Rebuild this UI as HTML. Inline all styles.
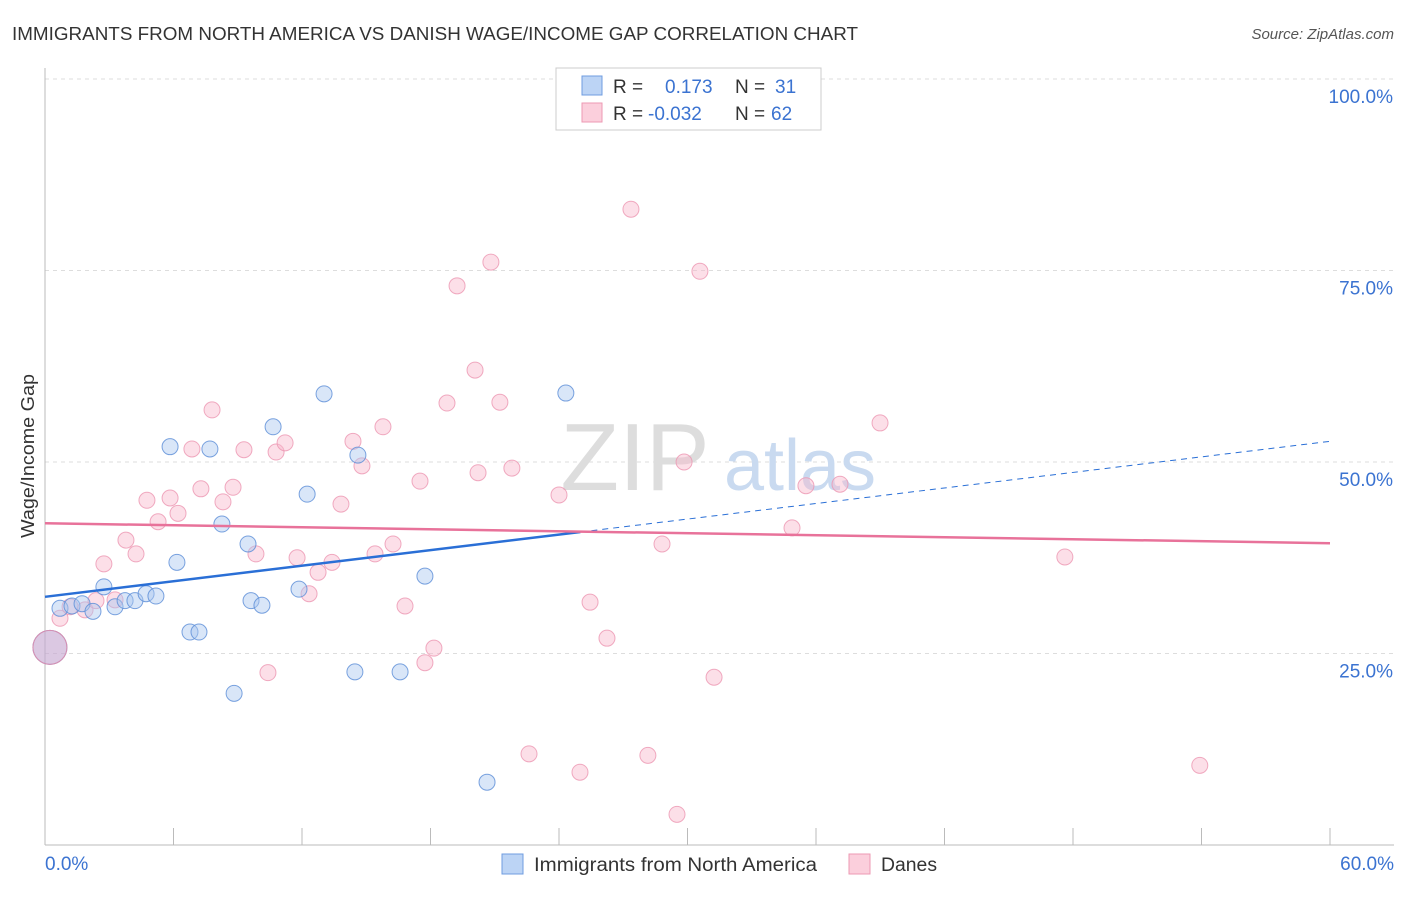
<!DOCTYPE html>
<html><head><meta charset="utf-8"><style>
body{margin:0;background:#fff;font-family:"Liberation Sans",sans-serif;}
svg text{font-family:"Liberation Sans",sans-serif;}
</style></head><body>
<svg id="chart" width="1406" height="892">
<text x="12" y="40" font-size="18" fill="#333" textLength="846" lengthAdjust="spacingAndGlyphs">IMMIGRANTS FROM NORTH AMERICA VS DANISH WAGE/INCOME GAP CORRELATION CHART</text>
<text x="1394" y="39" font-size="15" fill="#555" font-style="italic" text-anchor="end">Source: ZipAtlas.com</text>
<g id="grid"></g>
<text x="635" y="490" font-size="96" fill="#ddd" font-family="Liberation Serif" text-anchor="middle">ZIP</text>
<text x="800" y="490" font-size="72" fill="#c9daf0" text-anchor="middle">atlas</text>
<text transform="translate(34,456) rotate(-90)" font-size="18" fill="#333" text-anchor="middle" textLength="164" lengthAdjust="spacingAndGlyphs">Wage/Income Gap</text>
<g id="marks"></g>
<g>
<rect x="556" y="68" width="265" height="62" fill="#fff" stroke="#ccc"/>
<rect x="582" y="76" width="20" height="19" fill="#bcd4f5" stroke="#6f9ce0"/>
<rect x="582" y="103" width="20" height="19" fill="#fbcfdc" stroke="#ec9ab3"/>
<text x="613" y="93" font-size="19" fill="#333">R =</text><text x="665" y="93" font-size="19" fill="#3b73d1">0.173</text>
<text x="735" y="93" font-size="19" fill="#333">N =</text><text x="775" y="93" font-size="19" fill="#3b73d1">31</text>
<text x="613" y="120" font-size="19" fill="#333">R =</text><text x="648" y="120" font-size="19" fill="#3b73d1">-0.032</text>
<text x="735" y="120" font-size="19" fill="#333">N =</text><text x="771" y="120" font-size="19" fill="#3b73d1">62</text>
</g>
<g>
<rect x="502" y="854" width="21" height="20" fill="#bcd4f5" stroke="#6f9ce0"/>
<text x="534" y="871" font-size="19" fill="#333" textLength="283" lengthAdjust="spacingAndGlyphs">Immigrants from North America</text>
<rect x="849" y="854" width="21" height="20" fill="#fbcfdc" stroke="#ec9ab3"/>
<text x="881" y="871" font-size="19" fill="#333" textLength="56" lengthAdjust="spacingAndGlyphs">Danes</text>
</g>
</svg>
<script>
const xTicks=[0,6,12,18,24,30,36,42,48,54,60];
const yTicks=[25,50,75,100];
const blueX=[0.70,1.26,1.73,2.24,2.75,3.27,3.74,4.20,4.72,5.18,5.84,6.16,6.77,7.19,7.70,8.26,8.83,9.48,9.62,10.13,10.65,11.86,12.24,13.03,14.47,14.61,16.58,17.74,20.64,24.32];
const blueY=[30.9,31.2,31.5,30.5,33.7,31.1,31.9,31.9,32.8,32.5,52.0,36.9,27.8,27.8,51.7,41.9,19.8,39.3,31.9,31.3,54.6,33.4,45.8,58.9,22.6,50.9,22.6,35.1,8.2,59.0];
const pinkX=[0.70,1.17,1.87,2.38,2.75,3.27,3.78,4.25,4.76,5.28,5.84,6.21,6.86,7.28,7.80,8.31,8.78,9.29,9.85,10.41,10.79,11.21,11.77,12.33,12.75,13.40,13.82,14.38,14.80,15.41,15.78,16.25,16.81,17.51,17.74,18.16,18.77,19.24,20.08,20.22,20.82,21.24,21.80,22.60,24.00,24.98,25.45,26.24,27.36,28.15,28.81,29.51,29.84,30.58,31.24,34.88,35.53,37.12,38.99,47.62,53.92];
const pinkY=[29.6,31.1,30.7,31.9,36.7,32.0,39.8,38.0,45.0,42.2,45.3,43.3,51.7,46.5,56.8,44.8,46.7,51.6,38.0,22.5,51.3,52.5,37.5,32.8,35.6,36.9,44.5,52.7,49.5,38.0,54.6,39.3,31.2,47.5,23.8,25.7,57.7,73.0,62.0,48.6,76.1,57.8,49.2,11.9,45.7,9.5,31.7,27.0,83.0,11.7,39.3,4.0,50.0,74.9,21.9,41.4,46.9,47.1,55.1,37.6,10.4];
const bigPoint=[0.23,25.8];
const blueTrend=[32.4,52.7];
const pinkTrend=[42.0,39.4];
const blueSolidEnd=25.0;
const NS="http://www.w3.org/2000/svg";
const sx=v=>45+v/60*1285, sy=v=>845-v*7.66;
function mk(t,a,p){const e=document.createElementNS(NS,t);for(const k in a)e.setAttribute(k,a[k]);p.appendChild(e);return e;}
const grid=document.getElementById('grid'),marks=document.getElementById('marks');
yTicks.forEach(t=>{
 const l=mk('line',{x1:45,x2:1394,y1:sy(t),y2:sy(t),stroke:'#ddd','stroke-dasharray':'4,4'},grid);
 
 
 const tx=mk('text',{x:1393,y:sy(t)+24,'font-size':19,fill:'#3b73d1','text-anchor':'end'},grid);tx.textContent=t.toFixed(1)+'%';
 
 
});
mk('line',{x1:45,x2:45,y1:68,y2:845,stroke:'#bbb'},grid);
mk('line',{x1:45,x2:1394,y1:845,y2:845,stroke:'#bbb'},grid);
xTicks.forEach(t=>{
 const l=mk('line',{x1:sx(t),x2:sx(t),y1:828,y2:845,stroke:'#bbb'},grid);
 
 
});
[[0,'0.0%',45,'start'],[60,'60.0%',1394,'end']].forEach(d=>{
 const tx=mk('text',{x:d[2],y:870,'font-size':19,fill:'#3b73d1','text-anchor':d[3]},grid);tx.textContent=d[1];
 
 
});
const bc=mk('circle',{cx:sx(bigPoint[0]),cy:sy(bigPoint[1]),r:17,fill:'rgba(150,180,235,0.45)',stroke:'#6f9ce0'},marks);


const pc=mk('circle',{cx:sx(bigPoint[0]),cy:sy(bigPoint[1]),r:17,fill:'rgba(240,160,190,0.35)',stroke:'#d98fb0'},marks);


pinkX.forEach((x,i)=>{
 const c=mk('circle',{cx:sx(x),cy:sy(pinkY[i]),r:8,fill:'rgba(248,185,205,0.45)',stroke:'rgba(236,150,178,0.8)'},marks);
 
 
});
blueX.forEach((x,i)=>{
 const c=mk('circle',{cx:sx(x),cy:sy(blueY[i]),r:8,fill:'rgba(170,200,240,0.45)',stroke:'rgba(90,140,215,0.8)'},marks);
 
 
});
const by=x=>blueTrend[0]+(blueTrend[1]-blueTrend[0])*x/60;
const l1=mk('line',{x1:sx(0),y1:sy(by(0)),x2:sx(blueSolidEnd),y2:sy(by(blueSolidEnd)),stroke:'#2a6fd6','stroke-width':2.5},marks);


const l2=mk('line',{x1:sx(blueSolidEnd),y1:sy(by(blueSolidEnd)),x2:sx(60),y2:sy(by(60)),stroke:'#2a6fd6','stroke-width':1,'stroke-dasharray':'6,5'},marks);


const l3=mk('line',{x1:sx(0),y1:sy(pinkTrend[0]),x2:sx(60),y2:sy(pinkTrend[1]),stroke:'#e8729a','stroke-width':2.5},marks);


</script>
</body></html>
